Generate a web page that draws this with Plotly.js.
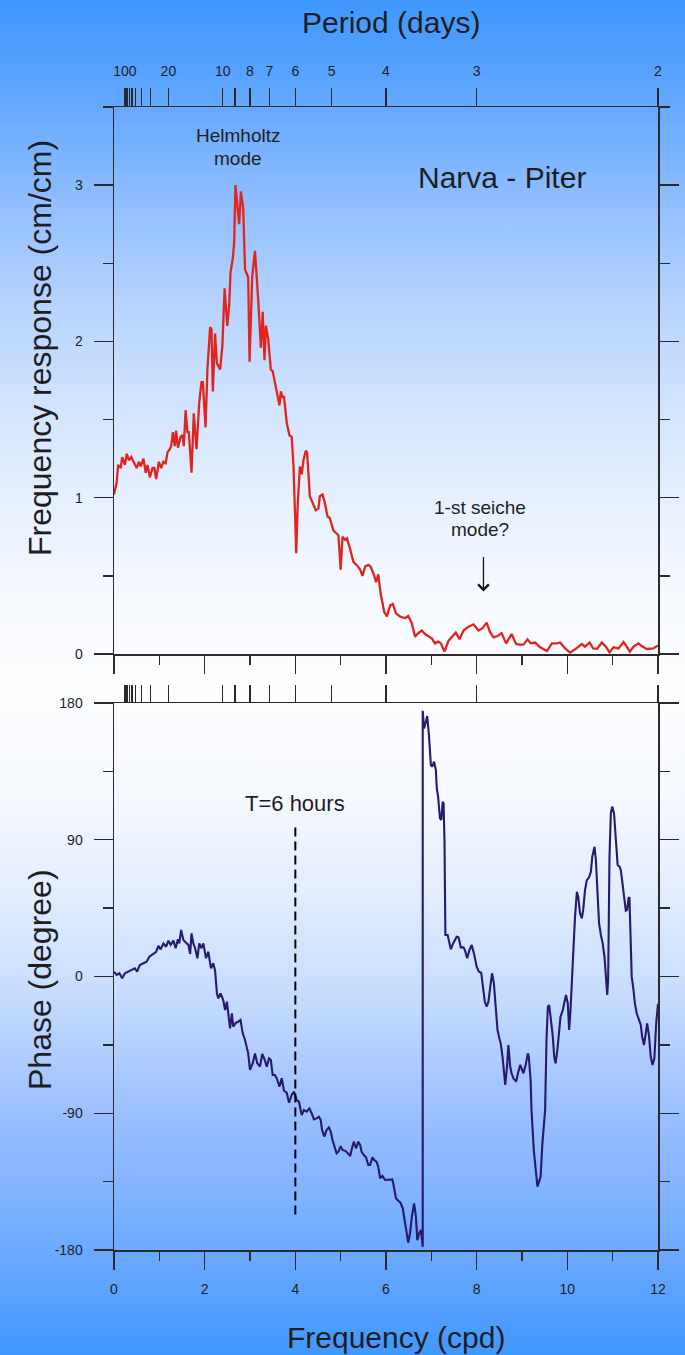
<!DOCTYPE html>
<html>
<head>
<meta charset="utf-8">
<script src="https://cdn.plot.ly/plotly-3.0.1.min.js"></script>
<style>
  html, body { margin: 0; padding: 0; }
  body {
    width: 685px; height: 1355px; overflow: hidden;
    background: linear-gradient(to bottom,
      #3f97fe 0%, #62a7ff 7.4%, #90beff 14.8%, #b4d2ff 22%, #d0e3ff 29.5%,
      #e6f0ff 36.9%, #f6f9ff 44%, #fdfeff 51%, #f5f8ff 59%, #e2edff 66%,
      #c4dbff 74%, #a0c2ff 81%, #80b2ff 88.5%, #58a1ff 96%, #3f97fe 100%);
  }
  #chart { width: 685px; height: 1355px; }
</style>
</head>
<body>
<div id="chart"></div>
<script>
// Frequency response amplitude, Narva - Piter (frequency in cpd, response in cm/cm)
const respFreq = [
  0.00,0.06,0.09,0.15,0.18,0.24,0.28,0.33,0.38,0.44,0.50,0.55,0.59,0.65,0.70,0.74,0.79,0.85,0.89,0.93,
  0.99,1.04,1.09,1.14,1.18,1.23,1.26,1.30,1.34,1.37,1.41,1.47,1.51,1.54,1.58,1.62,1.65,1.71,1.76,1.82,
  1.88,1.93,1.96,1.99,2.02,2.06,2.12,2.15,2.18,2.23,2.27,2.34,2.39,2.44,2.50,2.54,2.57,2.62,2.65,2.68,
  2.71,2.76,2.80,2.85,2.89,2.93,2.96,2.99,3.05,3.11,3.16,3.18,3.24,3.28,3.32,3.35,3.40,3.46,3.50,3.55,
  3.60,3.65,3.68,3.72,3.75,3.81,3.87,3.92,3.96,3.99,4.02,4.05,4.10,4.14,4.18,4.23,4.26,4.32,4.38,4.45,
  4.51,4.54,4.60,4.64,4.71,4.76,4.84,4.91,4.95,5.00,5.04,5.10,5.14,5.21,5.28,5.35,5.43,5.48,5.54,5.61,
  5.66,5.74,5.78,5.83,5.88,5.96,6.02,6.09,6.15,6.22,6.31,6.42,6.49,6.57,6.64,6.71,6.79,6.86,6.93,7.01,
  7.08,7.15,7.21,7.29,7.38,7.47,7.54,7.62,7.71,7.82,7.93,8.04,8.13,8.22,8.29,8.37,8.46,8.55,8.65,8.77,
  8.87,8.97,9.04,9.12,9.19,9.29,9.40,9.55,9.66,9.77,9.84,9.95,10.06,10.17,10.32,10.39,10.49,10.57,10.66,10.76,
  10.85,10.93,11.02,11.13,11.24,11.31,11.38,11.46,11.57,11.64,11.75,11.90,12.00
];
const respVal = [
  1.02,1.10,1.21,1.19,1.26,1.21,1.28,1.24,1.26,1.22,1.19,1.23,1.20,1.25,1.16,1.21,1.13,1.19,1.19,1.12,
  1.23,1.19,1.23,1.22,1.29,1.31,1.33,1.42,1.33,1.43,1.32,1.39,1.40,1.33,1.56,1.42,1.42,1.16,1.54,1.31,
  1.61,1.74,1.74,1.59,1.45,1.82,2.09,2.08,1.68,2.05,1.86,1.82,1.97,2.34,2.10,2.23,2.44,2.53,2.63,3.00,
  2.90,2.75,2.96,2.85,2.46,2.43,2.41,1.87,2.42,2.58,2.30,2.27,1.96,2.19,1.88,2.10,2.02,1.82,1.81,1.74,
  1.66,1.59,1.68,1.64,1.65,1.48,1.40,1.39,1.20,0.88,0.645,0.94,1.20,1.15,1.24,1.30,1.29,1.01,0.97,0.92,
  0.93,1.01,1.02,0.98,0.88,0.87,0.79,0.77,0.76,0.54,0.75,0.73,0.74,0.67,0.59,0.57,0.54,0.50,0.56,0.57,
  0.56,0.50,0.46,0.51,0.39,0.27,0.24,0.31,0.32,0.26,0.24,0.229,0.244,0.197,0.111,0.133,0.150,0.128,0.115,0.100,
  0.068,0.079,0.068,0.015,0.085,0.111,0.137,0.094,0.150,0.175,0.190,0.150,0.165,0.201,0.143,0.107,0.115,0.133,0.068,0.128,
  0.064,0.058,0.062,0.094,0.068,0.073,0.043,0.019,0.068,0.068,0.073,0.036,0.009,0.030,0.064,0.047,0.073,0.036,0.034,0.073,
  0.047,0.011,0.043,0.036,0.077,0.047,0.015,0.047,0.068,0.051,0.032,0.036,0.055
];

// Phase of the response (degrees)
const phaseFreq = [
  0.00,0.06,0.12,0.18,0.24,0.32,0.39,0.46,0.51,0.57,0.65,0.72,0.78,0.85,0.93,0.98,1.03,1.09,1.15,1.20,
  1.25,1.31,1.36,1.41,1.44,1.48,1.53,1.59,1.64,1.68,1.71,1.75,1.79,1.84,1.88,1.93,1.97,2.03,2.08,2.14,
  2.19,2.23,2.27,2.30,2.35,2.41,2.45,2.49,2.52,2.56,2.60,2.63,2.69,2.74,2.79,2.84,2.89,2.93,2.96,3.00,
  3.06,3.11,3.16,3.22,3.27,3.32,3.37,3.42,3.46,3.50,3.55,3.59,3.65,3.70,3.75,3.81,3.86,3.92,3.97,4.03,
  4.08,4.14,4.19,4.25,4.31,4.36,4.41,4.47,4.52,4.56,4.59,4.64,4.69,4.74,4.78,4.82,4.88,4.91,4.95,5.00,
  5.04,5.11,5.16,5.21,5.24,5.29,5.34,5.39,5.43,5.46,5.51,5.56,5.61,5.65,5.70,5.74,5.79,5.83,5.87,5.92,
  5.98,6.03,6.09,6.14,6.18,6.22,6.27,6.32,6.37,6.40,6.44,6.49,6.53,6.57,6.62,6.66,6.69,6.73,6.77,6.79,
  6.81,6.81,6.84,6.88,6.91,6.95,6.99,7.02,7.06,7.10,7.12,7.15,7.19,7.22,7.25,7.27,7.29,7.31,7.36,7.40,
  7.43,7.48,7.56,7.60,7.65,7.71,7.74,7.79,7.84,7.89,7.94,8.00,8.05,8.10,8.13,8.18,8.22,8.26,8.31,8.34,
  8.38,8.42,8.46,8.50,8.53,8.57,8.60,8.63,8.67,8.70,8.74,8.77,8.81,8.87,8.92,8.96,8.99,9.03,9.08,9.13,
  9.15,9.19,9.21,9.26,9.34,9.41,9.45,9.51,9.54,9.57,9.60,9.63,9.68,9.71,9.74,9.78,9.82,9.85,9.90,9.93,
  9.97,10.01,10.04,10.07,10.10,10.13,10.17,10.21,10.24,10.28,10.32,10.35,10.39,10.43,10.48,10.52,10.55,10.60,10.63,10.66,
  10.70,10.74,10.78,10.82,10.85,10.88,10.90,10.93,10.96,10.99,11.03,11.07,11.11,11.15,11.18,11.21,11.25,11.29,11.32,11.35,
  11.37,11.40,11.42,11.46,11.49,11.53,11.58,11.62,11.65,11.69,11.73,11.76,11.80,11.84,11.88,11.92,11.96,11.99,12.00
];
const phaseVal = [
  3.2,1.0,2.1,-1.2,2.1,3.2,4.3,5.4,3.2,7.6,8.7,9.7,13.0,14.8,16.3,20.1,17.9,21.8,19.6,23.6,
  20.8,23.6,18.6,24.5,21.8,30.6,24.0,22.2,20.8,14.8,28.4,21.8,18.6,12.0,21.8,18.6,21.8,12.0,16.3,5.4,
  8.7,3.8,-11.1,-14.4,-11.1,-15.5,-22.1,-16.6,-24.2,-34.1,-24.2,-33.0,-30.4,-29.8,-28.6,-37.4,-41.8,-48.4,-50.6,-61.5,
  -57.1,-50.6,-57.1,-59.3,-51.0,-54.5,-59.3,-53.9,-55.0,-64.8,-64.8,-67.0,-72.5,-67.0,-75.2,-76.5,-83.1,-78.0,-75.8,-81.3,
  -82.4,-91.2,-87.9,-89.0,-86.8,-90.0,-94.0,-93.4,-92.3,-94.5,-101.0,-105.4,-101.0,-99.3,-102.1,-107.6,-113.1,-116.4,-115.3,-111.6,
  -114.2,-114.9,-116.4,-118.1,-114.2,-108.7,-113.1,-108.7,-110.9,-115.3,-117.5,-119.0,-124.1,-124.1,-119.0,-120.8,-121.9,-125.2,-132.8,-131.3,
  -133.9,-133.9,-133.9,-133.5,-139.4,-146.0,-147.6,-148.9,-152.6,-158.1,-166.9,-175.2,-169.0,-158.1,-149.3,-158.1,-173.5,-169.0,-166.9,-173.5,
  -177.9,174.9,163.3,167.7,171.4,157.8,139.2,138.1,141.4,135.9,123.9,118.3,104.1,103.0,115.0,114.0,89.8,27.3,27.3,21.8,
  17.9,21.8,26.2,25.8,19.2,19.2,17.4,12.0,17.4,20.7,15.2,6.4,3.1,2.5,-4.5,-16.6,-19.9,-16.6,-4.5,2.1,
  -4.5,-22.1,-35.2,-40.7,-44.0,-52.8,-63.7,-71.4,-59.3,-45.1,-59.3,-63.7,-67.0,-69.2,-62.6,-58.2,-60.4,-63.7,-58.2,-50.6,
  -52.8,-68.1,-87.9,-114.2,-138.3,-131.8,-109.8,-87.9,-41.8,-19.9,-18.8,-25.3,-39.6,-52.8,-57.1,-48.4,-35.2,-26.4,-22.1,-16.6,
  -12.2,-17.7,-35.2,-22.1,2.1,15.2,39.3,55.8,52.5,41.6,38.3,43.8,56.9,63.4,65.3,69.0,78.8,85.4,76.7,56.9,
  35.0,27.3,21.8,13.0,-2.3,-12.2,-2.3,78.8,107.4,111.8,107.4,92.0,73.4,72.3,70.1,62.8,52.1,43.3,43.8,51.5,
  52.1,26.2,-0.1,-8.9,-17.7,-24.2,-28.6,-31.9,-39.6,-45.1,-37.4,-30.8,-38.5,-52.8,-58.2,-53.9,-30.8,-20.9,-18.0
];

// Period ticks (24/f) shown along the top of both panels
const periodTicks  = [100, 90, 80, 70, 60, 50, 40, 30, 20, 10, 9, 8, 7, 6, 5, 4, 3, 2];
const periodLabels = ['100','','','','','','','','20','10','','8','7','6','5','4','3','2'];
const periodFreq = periodTicks.map(p => 24 / p);

// Frequency axis and value axes
const freqRange = [0, 12];
const respTicks = [0, 1, 2, 3];
const phaseTicks = [-180, -90, 0, 90, 180];
const phaseTickText = ['-180', '-90', '0', '90', '180'];

// Marker for the 6-hour period
const sixHourFreq = 4;
const sixHourSpan = [98, -159];

const W = 685, H = 1355;
const xDom = [114 / W, 658 / W];
const yTopDom = [(H - 654) / H, (H - 107) / H];
const yBotDom = [(H - 1250) / H, (H - 703) / H];

const ink = '#1e1e1e';
const lineCol = '#2a2a2a';
const font = 'Liberation Sans, Arial, sans-serif';

const baseX = {
  range: freqRange, showgrid: false, zeroline: false,
  showline: true, linecolor: lineCol, linewidth: 1.5, mirror: true,
  ticks: 'outside', ticklen: 18, tickwidth: 1.3, tickcolor: lineCol,
  tickmode: 'linear', tick0: 0, dtick: 2,
  minor: { ticks: 'outside', dtick: 1, ticklen: 9, tickwidth: 1.3, tickcolor: lineCol, showgrid: false },
  tickfont: { family: font, size: 14, color: ink }
};

const periodAxis = {
  range: freqRange, side: 'top', showgrid: false, zeroline: false,
  showline: true, linecolor: lineCol, linewidth: 1.5,
  tickmode: 'array', tickvals: periodFreq, ticktext: periodLabels,
  ticks: 'outside', ticklen: 18, tickwidth: 1.3, tickcolor: lineCol,
  tickfont: { family: font, size: 14, color: ink }, ticklabelstandoff: 6
};

const baseY = {
  showgrid: false, zeroline: false,
  showline: true, linecolor: lineCol, linewidth: 1.5, mirror: 'ticks',
  ticks: 'outside', ticklen: 19, tickwidth: 1.3, tickcolor: lineCol,
  tickfont: { family: font, size: 14, color: ink }, ticklabelstandoff: 8
};

const clear = 'rgba(0,0,0,0)';
const traces = [
  {
    x: respFreq, y: respVal, xaxis: 'x', yaxis: 'y', type: 'scatter', mode: 'lines',
    line: { color: '#e0261c', width: 2.3 }, hoverinfo: 'skip'
  },
  {
    x: phaseFreq, y: phaseVal, xaxis: 'x2', yaxis: 'y2', type: 'scatter', mode: 'lines',
    line: { color: '#261a6c', width: 2.1 }, hoverinfo: 'skip'
  },
  // the period axes need a series attached so they get drawn; these carry no ink
  {
    x: respFreq, y: respVal, xaxis: 'x3', yaxis: 'y', type: 'scatter', mode: 'lines',
    line: { color: clear, width: 0 }, hoverinfo: 'skip'
  },
  {
    x: phaseFreq, y: phaseVal, xaxis: 'x4', yaxis: 'y2', type: 'scatter', mode: 'lines',
    line: { color: clear, width: 0 }, hoverinfo: 'skip'
  }
];

function label(text, xref, yref, x, y, size) {
  return { text: text, xref: xref, yref: yref, x: x, y: y, xanchor: 'center', yanchor: 'middle',
           showarrow: false, font: { size: size, color: ink } };
}

const layout = {
  width: W, height: H,
  margin: { l: 0, r: 0, t: 0, b: 0 },
  paper_bgcolor: clear, plot_bgcolor: clear,
  showlegend: false,
  font: { family: font, color: ink },
  xaxis: Object.assign({}, baseX, { domain: xDom, anchor: 'y', showticklabels: false }),
  xaxis2: Object.assign({}, baseX, { domain: xDom, anchor: 'y2', ticklabelstandoff: 8 }),
  xaxis3: Object.assign({}, periodAxis, { overlaying: 'x', anchor: 'y' }),
  xaxis4: Object.assign({}, periodAxis, { overlaying: 'x2', anchor: 'y2', ticklen: 17, showticklabels: false }),
  yaxis: Object.assign({}, baseY, {
    domain: yTopDom, anchor: 'x', range: [0, 3.5],
    tickmode: 'array', tickvals: respTicks, ticktext: respTicks.map(String),
    minor: { ticks: 'outside', dtick: 0.5, ticklen: 10, tickwidth: 1.3, tickcolor: lineCol, showgrid: false }
  }),
  yaxis2: Object.assign({}, baseY, {
    domain: yBotDom, anchor: 'x2', range: [-180, 180],
    tickmode: 'array', tickvals: phaseTicks, ticktext: phaseTickText,
    minor: { ticks: 'outside', dtick: 45, ticklen: 10, tickwidth: 1.3, tickcolor: lineCol, showgrid: false }
  }),
  shapes: [
    {
      type: 'line', xref: 'x2', yref: 'y2',
      x0: sixHourFreq, x1: sixHourFreq, y0: sixHourSpan[0], y1: sixHourSpan[1],
      line: { color: '#000', width: 2, dash: '9px,5px' }
    }
  ],
  annotations: [
    label('Period (days)', 'paper', 'paper', 391 / W, (H - 22) / H, 30),
    label('Frequency (cpd)', 'paper', 'paper', 396 / W, (H - 1337) / H, 30),
    Object.assign(label('Frequency response (cm/cm)', 'paper', 'paper', 40 / W, (H - 348) / H, 32), { textangle: -90 }),
    Object.assign(label('Phase (degree)', 'paper', 'paper', 40 / W, (H - 980) / H, 32), { textangle: -90 }),
    label('Helmholtz', 'x', 'y', 2.74, 3.32, 19),
    label('mode', 'x', 'y', 2.74, 3.17, 19),
    label('Narva - Piter', 'x', 'y', 8.55, 3.05, 30),
    label('1-st seiche', 'x', 'y', 8.07, 0.935, 19),
    label('mode?', 'x', 'y', 8.07, 0.795, 19),
    { text: '', xref: 'x', yref: 'y', x: 8.15, y: 0.40, ax: 8.15, ay: 0.63, axref: 'x', ayref: 'y',
      showarrow: true, arrowhead: 4, arrowsize: 1.6, arrowwidth: 1.3, arrowcolor: '#111' },
    label('T=6 hours', 'x2', 'y2', sixHourFreq, 114, 22)
  ]
};

Plotly.newPlot('chart', traces, layout, { staticPlot: true, displayModeBar: false });
</script>
</body>
</html>
